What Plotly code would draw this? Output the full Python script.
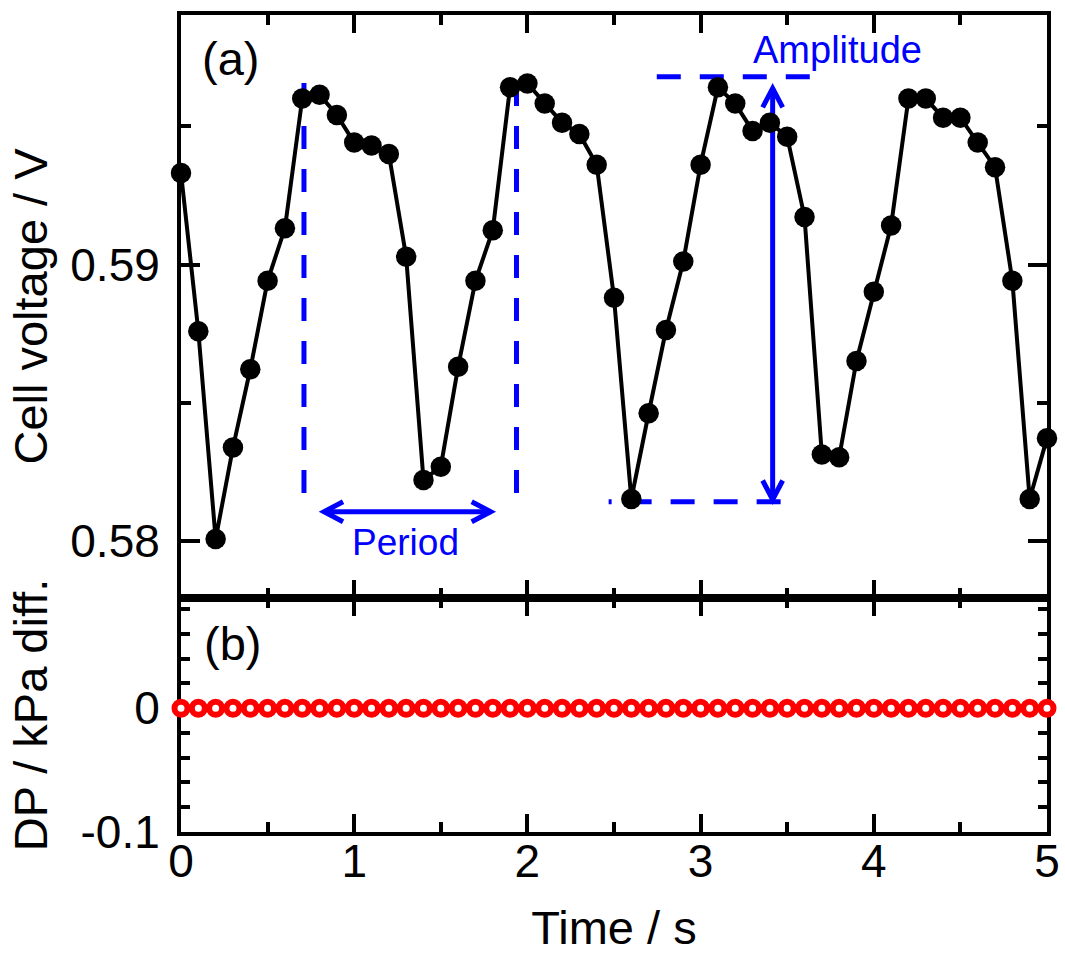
import plotly.graph_objects as go
from plotly.subplots import make_subplots

# ---- data -------------------------------------------------------------
time_s = [0.0, 0.1, 0.2, 0.3, 0.4, 0.5, 0.6, 0.7, 0.8, 0.9,
          1.0, 1.1, 1.2, 1.3, 1.4, 1.5, 1.6, 1.7, 1.8, 1.9,
          2.0, 2.1, 2.2, 2.3, 2.4, 2.5, 2.6, 2.7, 2.8, 2.9,
          3.0, 3.1, 3.2, 3.3, 3.4, 3.5, 3.6, 3.7, 3.8, 3.9,
          4.0, 4.1, 4.2, 4.3, 4.4, 4.5, 4.6, 4.7, 4.8, 4.9,
          5.0]

cell_voltage = [0.59331, 0.58759, 0.58007, 0.58338, 0.58621, 0.58941, 0.59131, 0.59600, 0.59614, 0.59541,
                0.59441, 0.59430, 0.59400, 0.59028, 0.58221, 0.58269, 0.58630, 0.58941, 0.59124, 0.59641,
                0.59655, 0.59582, 0.59513, 0.59472, 0.59361, 0.58880, 0.58152, 0.58462, 0.58763, 0.59011,
                0.59361, 0.59641, 0.59582, 0.59483, 0.59513, 0.59462, 0.59172, 0.58313, 0.58303, 0.58651,
                0.58901, 0.59141, 0.59600, 0.59600, 0.59531, 0.59531, 0.59441, 0.59352, 0.58941, 0.58152,
                0.58372]

dp_kpa_diff = [0.0, 0.0, 0.0, 0.0, 0.0, 0.0, 0.0, 0.0, 0.0, 0.0,
               0.0, 0.0, 0.0, 0.0, 0.0, 0.0, 0.0, 0.0, 0.0, 0.0,
               0.0, 0.0, 0.0, 0.0, 0.0, 0.0, 0.0, 0.0, 0.0, 0.0,
               0.0, 0.0, 0.0, 0.0, 0.0, 0.0, 0.0, 0.0, 0.0, 0.0,
               0.0, 0.0, 0.0, 0.0, 0.0, 0.0, 0.0, 0.0, 0.0, 0.0,
               0.0]

dp_tick_vals = [-0.1, 0.0]
dp_tick_text = ["-0.1", "0"]

# ---- geometry ---------------------------------------------------------
W, H = 1065, 954
M_L, M_R, M_T, M_B = 181, 18, 15, 122
TOP_H, BOT_H = 583, 234
X_RANGE = [0, 5]
V_RANGE = [0.577939, 0.599023]
DP_RANGE = [-0.1, 0.089]

PX_PER_S = (W - M_L - M_R) / (X_RANGE[1] - X_RANGE[0])
PX_PER_V = TOP_H / (V_RANGE[1] - V_RANGE[0])

FONT = "Arial, 'Liberation Sans', sans-serif"
BLUE = "#0000FF"
GUIDE_W = 5

fig = make_subplots(rows=2, cols=1, shared_xaxes=True, vertical_spacing=0,
                    row_heights=[TOP_H, BOT_H])

fig.add_trace(go.Scatter(
    x=time_s, y=cell_voltage, mode="lines+markers",
    line=dict(color="black", width=4),
    marker=dict(size=20.5, color="black"),
    cliponaxis=False, showlegend=False, hoverinfo="skip"), row=1, col=1)

# hollow red rings: white-filled circles with a thick red outline
fig.add_trace(go.Scatter(
    x=time_s, y=dp_kpa_diff, mode="markers",
    marker=dict(symbol="circle", size=13, color="white",
                line=dict(width=6, color="red")),
    cliponaxis=False, showlegend=False, hoverinfo="skip"), row=2, col=1)

# ---- axes -------------------------------------------------------------
frame = dict(showline=True, linecolor="black", linewidth=4, mirror="ticks",
             ticks="inside", tickcolor="black", tickwidth=3.5,
             showgrid=False, zeroline=False,
             tickfont=dict(family=FONT, size=46, color="black"))
title_font = dict(family=FONT, size=47, color="black")

x_common = dict(frame, range=X_RANGE, tick0=0, dtick=1, ticklen=18,
                minor=dict(ticks="inside", ticklen=10, tickwidth=3.5,
                           tickcolor="black", tick0=0, dtick=0.5, showgrid=False))

fig.update_xaxes(x_common, showticklabels=False, row=1, col=1)
fig.update_xaxes(x_common, showticklabels=True, ticklabelstandoff=-14,
                 title=dict(text="Time / s", font=title_font, standoff=36),
                 row=2, col=1)

fig.update_yaxes(frame, range=V_RANGE, tick0=0.58, dtick=0.01, tickformat=".2f",
                 ticklen=19, ticklabelstandoff=8,
                 minor=dict(ticks="inside", ticklen=10, tickwidth=3.5,
                            tickcolor="black", tick0=0.58, dtick=0.005, showgrid=False),
                 title=dict(text="Cell voltage / V", font=title_font, standoff=9),
                 row=1, col=1)

fig.update_yaxes(frame, range=DP_RANGE, tickmode="array", tickvals=dp_tick_vals,
                 ticktext=dp_tick_text, ticklen=18, ticklabelstandoff=8,
                 layer="below traces",
                 minor=dict(ticks="inside", ticklen=9, tickwidth=3.5,
                            tickcolor="black", tick0=0, dtick=0.02, showgrid=False),
                 title=dict(text="DP / kPa diff.", font=title_font, standoff=19),
                 row=2, col=1)


# ---- guide marks in panel (a) ----------------------------------------
def dx(px):
    return px / PX_PER_S


def dy(px):
    return px / PX_PER_V


shapes = []


def guide_line(x0, y0, x1, y1, dash="solid"):
    shapes.append(dict(type="line", xref="x", yref="y", x0=x0, y0=y0, x1=x1, y1=y1,
                       line=dict(color=BLUE, width=GUIDE_W, dash=dash), layer="below"))


def chevron(tx, ty, along_x, along_y):
    """Open arrow head with its tip at (tx, ty), opening towards (along_x, along_y)."""
    arm, half = 19, 10
    if along_x:
        p1 = (tx + dx(arm * along_x), ty + dy(half))
        p2 = (tx + dx(arm * along_x), ty - dy(half))
    else:
        p1 = (tx + dx(half), ty + dy(arm * along_y))
        p2 = (tx - dx(half), ty + dy(arm * along_y))
    path = f"M{p1[0]},{p1[1]} L{tx},{ty} L{p2[0]},{p2[1]}"
    shapes.append(dict(type="path", xref="x", yref="y", path=path,
                       line=dict(color=BLUE, width=GUIDE_W), layer="below"))


DASH = "23px,20px"
# period markers
guide_line(0.71, 0.58174, 0.71, 0.59660, DASH)
guide_line(1.937, 0.58174, 1.937, 0.59660, DASH)
# period arrow
guide_line(0.826, 0.58106, 1.788, 0.58106)
chevron(0.826, 0.58106, 1, 0)
chevron(1.788, 0.58106, -1, 0)
# amplitude markers
guide_line(2.747, 0.59679, 3.635, 0.59679, "24px,19px")
guide_line(2.469, 0.58142, 3.472, 0.58142,
           "3px,16px,24px,19px,24px,19px,24px,19px,24px,19px,24px,60px")
# amplitude arrow
guide_line(3.416, 0.58150, 3.416, 0.59637)
chevron(3.416, 0.59637, 0, -1)
chevron(3.416, 0.58150, 0, 1)

annotations = [
    dict(text="Period", x=1.299, y=0.57993, xref="x", yref="y", showarrow=False,
         font=dict(family=FONT, size=37, color=BLUE), xanchor="center", yanchor="middle"),
    dict(text="Amplitude", x=3.788, y=0.59775, xref="x", yref="y", showarrow=False,
         font=dict(family=FONT, size=38, color=BLUE), xanchor="center", yanchor="middle"),
    dict(text="(a)", x=0.283, y=0.59745, xref="x", yref="y", showarrow=False,
         font=dict(family=FONT, size=47, color="black"), xanchor="center", yanchor="middle"),
    dict(text="(b)", x=0.295, y=0.0525, xref="x2", yref="y2", showarrow=False,
         font=dict(family=FONT, size=47, color="black"), xanchor="center", yanchor="middle"),
]

fig.update_layout(
    width=W, height=H,
    margin=dict(l=M_L, r=M_R, t=M_T, b=M_B, autoexpand=False),
    paper_bgcolor="white", plot_bgcolor="white",
    font=dict(family=FONT, color="black"),
    showlegend=False,
    shapes=shapes, annotations=annotations,
)

fig.write_html("out.html")
